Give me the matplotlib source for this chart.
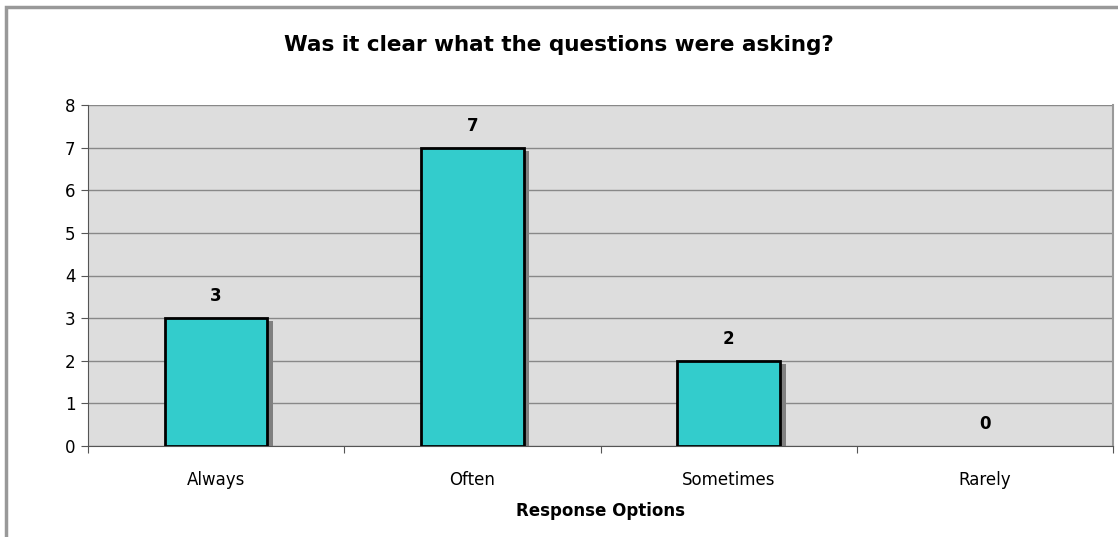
import matplotlib.pyplot as plt
from matplotlib.patches import Rectangle

# Respuestas de la encuesta
opciones = ["Always", "Often", "Sometimes", "Rarely"]
respuestas = [3, 7, 2, 0]
marcas_y = [0, 1, 2, 3, 4, 5, 6, 7, 8]

plt.rcParams['font.family'] = ['DejaVu Sans']

fig = plt.figure(figsize=(11.18, 5.37), dpi=100)
ax = fig.add_axes([88 / 1118, 1 - 446 / 537, (1113 - 88) / 1118, (446 - 105) / 537])

# Marco exterior del grafico
fig.patches.append(Rectangle((6 / 1118, -0.1), 1.2, 1 - 7 / 537 + 0.1,
                             transform=fig.transFigure, fill=False,
                             edgecolor="#999999", linewidth=2.5))

ax.set_facecolor("#DDDDDD")
pos = list(range(len(opciones)))
ancho = 0.4

# Sombra de las barras y barras (sin borde cuando el valor es cero)
alturas_sombra = [max(v - 0.07, 0) for v in respuestas]
ax.bar([p + 0.022 for p in pos], alturas_sombra, width=ancho,
       color="#808080", zorder=2)
bordes = [2 if v > 0 else 0 for v in respuestas]
ax.bar(pos, respuestas, width=ancho, color="#33CCCC", edgecolor="black",
       linewidth=bordes, zorder=3)

for p, v in zip(pos, respuestas):
    ax.text(p, v + 0.3, str(v), ha="center", va="bottom",
            fontsize=12, fontweight="bold", zorder=4)

ax.set_xlim(-0.5, len(opciones) - 0.5)
ax.set_ylim(0, 8)
ax.set_yticks(marcas_y)
ax.yaxis.grid(True, color="#888888", linewidth=1)
ax.set_axisbelow(True)

ax.set_xticks([p - 0.5 for p in pos] + [len(opciones) - 0.5])
ax.set_xticklabels([])
ax.set_xticks(pos, minor=True)
ax.set_xticklabels(opciones, minor=True)
ax.tick_params(axis="x", which="minor", length=0, pad=18, labelsize=12)
ax.tick_params(axis="x", which="major", length=5, color="#555555")
ax.tick_params(axis="y", length=5, labelsize=12, pad=4, color="#555555")

ax.spines["right"].set_color("#999999")
ax.spines["right"].set_linewidth(1.5)
ax.spines["top"].set_visible(False)
ax.spines["left"].set_color("#555555")
ax.spines["bottom"].set_color("#555555")

ax.set_xlabel("Response Options", fontsize=12, fontweight="bold", labelpad=9)
fig.text(559 / 1118, 1 - 45 / 537, "Was it clear what the questions were asking?",
         ha="center", va="center", fontsize=15.5, fontweight="bold")

fig.savefig("out.png", dpi=100)
